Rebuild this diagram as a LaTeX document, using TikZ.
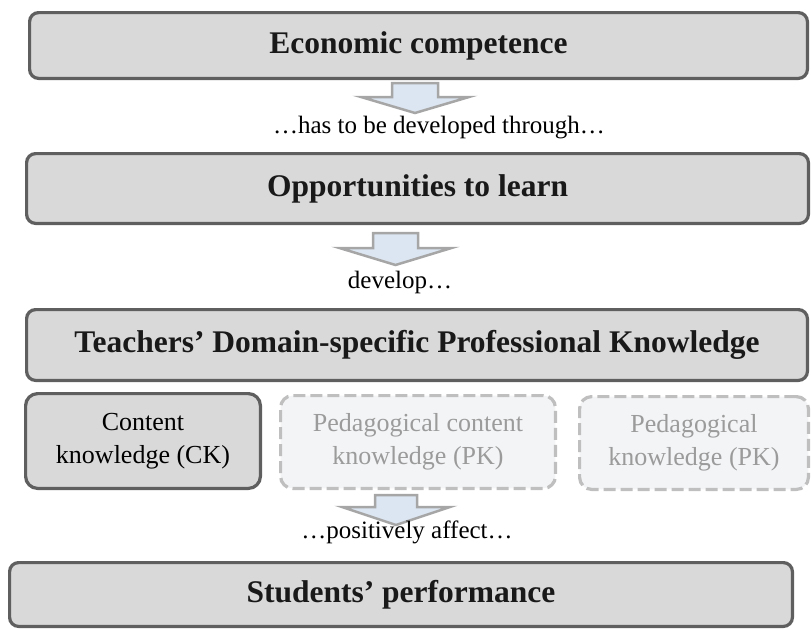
\documentclass[tikz,border=0pt]{standalone}
\usepackage{fontspec}
\setmainfont{Liberation Serif}
\definecolor{boxfill}{HTML}{D9D9D9}
\definecolor{boxline}{HTML}{5F5F5F}
\definecolor{dashfill}{HTML}{F3F4F6}
\definecolor{dashline}{HTML}{BFBFBF}
\definecolor{dashtext}{HTML}{9B9B9B}
\definecolor{arrfill}{HTML}{DCE6F2}
\definecolor{arrline}{HTML}{A6A6A6}
\begin{document}
\begin{tikzpicture}[x=1pt,y=-1pt,
  mainbox/.style={draw=boxline, fill=boxfill, line width=3.2pt, rounded corners=9pt,
    inner sep=0pt, font=\fontsize{31.5}{36}\selectfont\bfseries, text=black!90},
  knowbox/.style={rounded corners=12pt, line width=3.2pt, inner sep=0pt, align=center,
    font=\fontsize{26}{33}\selectfont},
  ckbox/.style={knowbox, draw=boxline, fill=boxfill},
  dashbox/.style={knowbox, draw=dashline, fill=dashfill, text=dashtext, dash pattern=on 12pt off 5pt},
  lbl/.style={font=\fontsize{25}{30}\selectfont, inner sep=0pt, anchor=base},
  blockarr/.style={fill=arrfill, draw=arrline, line width=2.5pt, line join=miter}
]
\useasboundingbox (0,0) rectangle (811,629);

\node[mainbox, minimum width=777.8pt, minimum height=65.8pt] (econ) at (418.5,45.5) {Economic competence};
\node[mainbox, minimum width=781.8pt, minimum height=69.8pt] (opp) at (417.5,188.5) {Opportunities to learn};
\node[mainbox, minimum width=780.8pt, minimum height=70.8pt] (tdpk) at (417,345) {Teachers’ Domain-specific Professional Knowledge};
\node[ckbox, minimum width=234.8pt, minimum height=94.8pt] (ck) at (143,441) {Content\\knowledge (CK)};
\node[dashbox, minimum width=274.8pt, minimum height=92.8pt] (pck) at (418,442) {Pedagogical content\\knowledge (PK)};
\node[dashbox, minimum width=228.8pt, minimum height=92.8pt] (pk) at (694,443) {Pedagogical\\knowledge (PK)};
\node[mainbox, minimum width=782.8pt, minimum height=63.8pt] (stud) at (401,594.5) {Students’ performance};

% block arrows
\coordinate (a1) at (415,83);
\draw[blockarr] (a1) ++(-23,0) -- ++(46,0) -- ++(0,14) -- ++(31,0) -- ++(-54,16) -- ++(-54,-16) -- ++(31,0) -- cycle;
\coordinate (a2) at (395.5,233);
\draw[blockarr] (a2) ++(-22.5,0) -- ++(45,0) -- ++(0,15) -- ++(33.5,0) -- ++(-56,17) -- ++(-56,-17) -- ++(33.5,0) -- cycle;
\coordinate (a3) at (396,495);
\draw[blockarr] (a3) ++(-21,0) -- ++(42,0) -- ++(0,12) -- ++(33,0) -- ++(-54,18) -- ++(-54,-18) -- ++(33,0) -- cycle;

\node[lbl] (l1) at (439,133) {…has to be developed through…};
\node[lbl] (l2) at (400,288) {develop…};
\node[lbl] (l3) at (407,538) {…positively affect…};
\end{tikzpicture}
\end{document}
